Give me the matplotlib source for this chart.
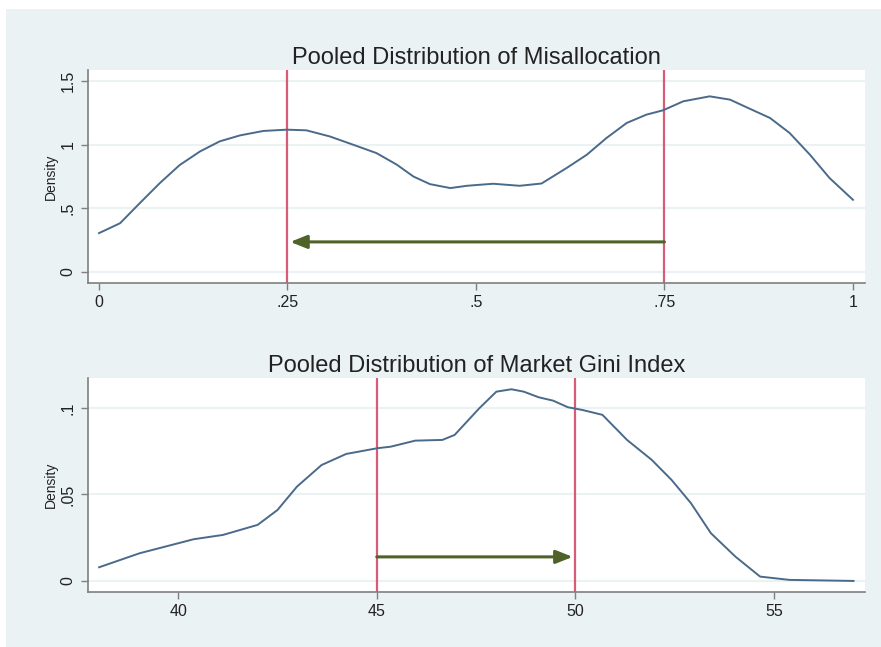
import matplotlib
matplotlib.use('Agg')
import matplotlib.pyplot as plt
from matplotlib.patches import Rectangle

# Kernel density of misallocation (pooled)
mis_x = [0.0, 0.028, 0.054, 0.081, 0.107, 0.134, 0.160, 0.187, 0.218, 0.249,
         0.275, 0.306, 0.337, 0.368, 0.395, 0.417, 0.439, 0.466, 0.488, 0.505,
         0.523, 0.558, 0.587, 0.620, 0.647, 0.673, 0.700, 0.726, 0.748, 0.775,
         0.810, 0.837, 0.863, 0.890, 0.916, 0.943, 0.969, 1.0]
mis_d = [0.305, 0.383, 0.54, 0.70, 0.84, 0.947, 1.026, 1.073, 1.108, 1.118,
         1.113, 1.065, 1.0, 0.934, 0.843, 0.75, 0.69, 0.659, 0.677, 0.685,
         0.693, 0.677, 0.695, 0.816, 0.921, 1.052, 1.171, 1.236, 1.27, 1.341,
         1.38, 1.354, 1.283, 1.21, 1.092, 0.921, 0.738, 0.567]
mis_lines = [0.25, 0.75]
mis_arrow = (0.75, 0.25, 0.236)   # from, to, height

# Kernel density of market Gini index (pooled)
gini_x = [38.01, 39.03, 40.39, 41.13, 42.0, 42.5, 42.99, 43.61, 44.23, 45.01,
          45.35, 45.97, 46.65, 46.96, 47.58, 48.01, 48.39, 48.70, 49.07, 49.44,
          49.81, 50.18, 50.68, 51.30, 51.92, 52.42, 52.91, 53.41, 54.03, 54.65,
          55.39, 57.0]
gini_d = [0.0079, 0.016, 0.0241, 0.0266, 0.0324, 0.041, 0.0545, 0.067, 0.0734,
          0.0767, 0.0776, 0.0811, 0.0815, 0.0844, 0.0998, 0.1094, 0.1108, 0.1094,
          0.1062, 0.1042, 0.1004, 0.0988, 0.096, 0.0815, 0.070, 0.0584, 0.0449,
          0.0276, 0.014, 0.0025, 0.0006, 0.0]
gini_lines = [45, 50]
gini_arrow = (45, 50, 0.0139)

BG = '#EAF2F3'
CURVE = '#4A6A8A'
VLINE = '#D65C78'
ARROW = '#4F6228'
AXIS = '#7F7F7F'

plt.rcParams['font.family'] = ['Liberation Sans', 'DejaVu Sans']

fig = plt.figure(figsize=(8.81, 6.47), dpi=100)
fig.patch.set_facecolor('white')
fig.patches.append(Rectangle((6 / 881, 0), 1, 1 - 9 / 647, transform=fig.transFigure,
                             facecolor=BG, edgecolor='none', zorder=-10))


def panel(rect, x, d, vlines, arrow, title, xlim, ylim, xticks, xlabels, yticks, ylabels):
    ax = fig.add_axes(rect)
    ax.set_facecolor('white')
    for yt in yticks:
        ax.axhline(yt, color=BG, lw=1.5, zorder=0)
    ax.plot(x, d, color=CURVE, lw=1.4, zorder=3, solid_joinstyle='round')
    for v in vlines:
        ax.axvline(v, color=VLINE, lw=1.6, zorder=2)
    ax.annotate('', xy=(arrow[1], arrow[2]), xytext=(arrow[0], arrow[2]),
                arrowprops=dict(arrowstyle='-|>,head_length=1.0,head_width=0.4',
                                color=ARROW, lw=2.2, shrinkA=0, shrinkB=2),
                zorder=4)
    ax.set_xlim(*xlim)
    ax.set_ylim(*ylim)
    ax.set_xticks(xticks)
    ax.set_xticklabels(xlabels)
    ax.set_yticks(yticks)
    ax.set_yticklabels(ylabels, rotation=90, va='center')
    for s in ['top', 'right']:
        ax.spines[s].set_visible(False)
    for s in ['left', 'bottom']:
        ax.spines[s].set_color(AXIS)
        ax.spines[s].set_linewidth(1.2)
    ax.tick_params(direction='out', length=5, width=1, color=AXIS,
                   labelsize=11.5, labelcolor='#222222', pad=4)
    ax.set_ylabel('Density', fontsize=10, color='#222222', labelpad=2)
    ax.set_title(title, fontsize=17, color='#222222', pad=4)
    return ax


panel([88 / 881, 1 - 283 / 647, 777 / 881, 213 / 647], mis_x, mis_d, mis_lines, mis_arrow,
      'Pooled Distribution of Misallocation', (-0.0146, 1.016), (-0.087, 1.587),
      [0, 0.25, 0.5, 0.75, 1], ['0', '.25', '.5', '.75', '1'],
      [0, 0.5, 1, 1.5], ['0', '.5', '1', '1.5'])

panel([88 / 881, 1 - 592 / 647, 777 / 881, 214 / 647], gini_x, gini_d, gini_lines, gini_arrow,
      'Pooled Distribution of Market Gini Index', (37.73, 57.29), (-0.0064, 0.1173),
      [40, 45, 50, 55], ['40', '45', '50', '55'],
      [0, 0.05, 0.1], ['0', '.05', '.1'])

fig.savefig('out.png', dpi=100, facecolor=fig.get_facecolor())
